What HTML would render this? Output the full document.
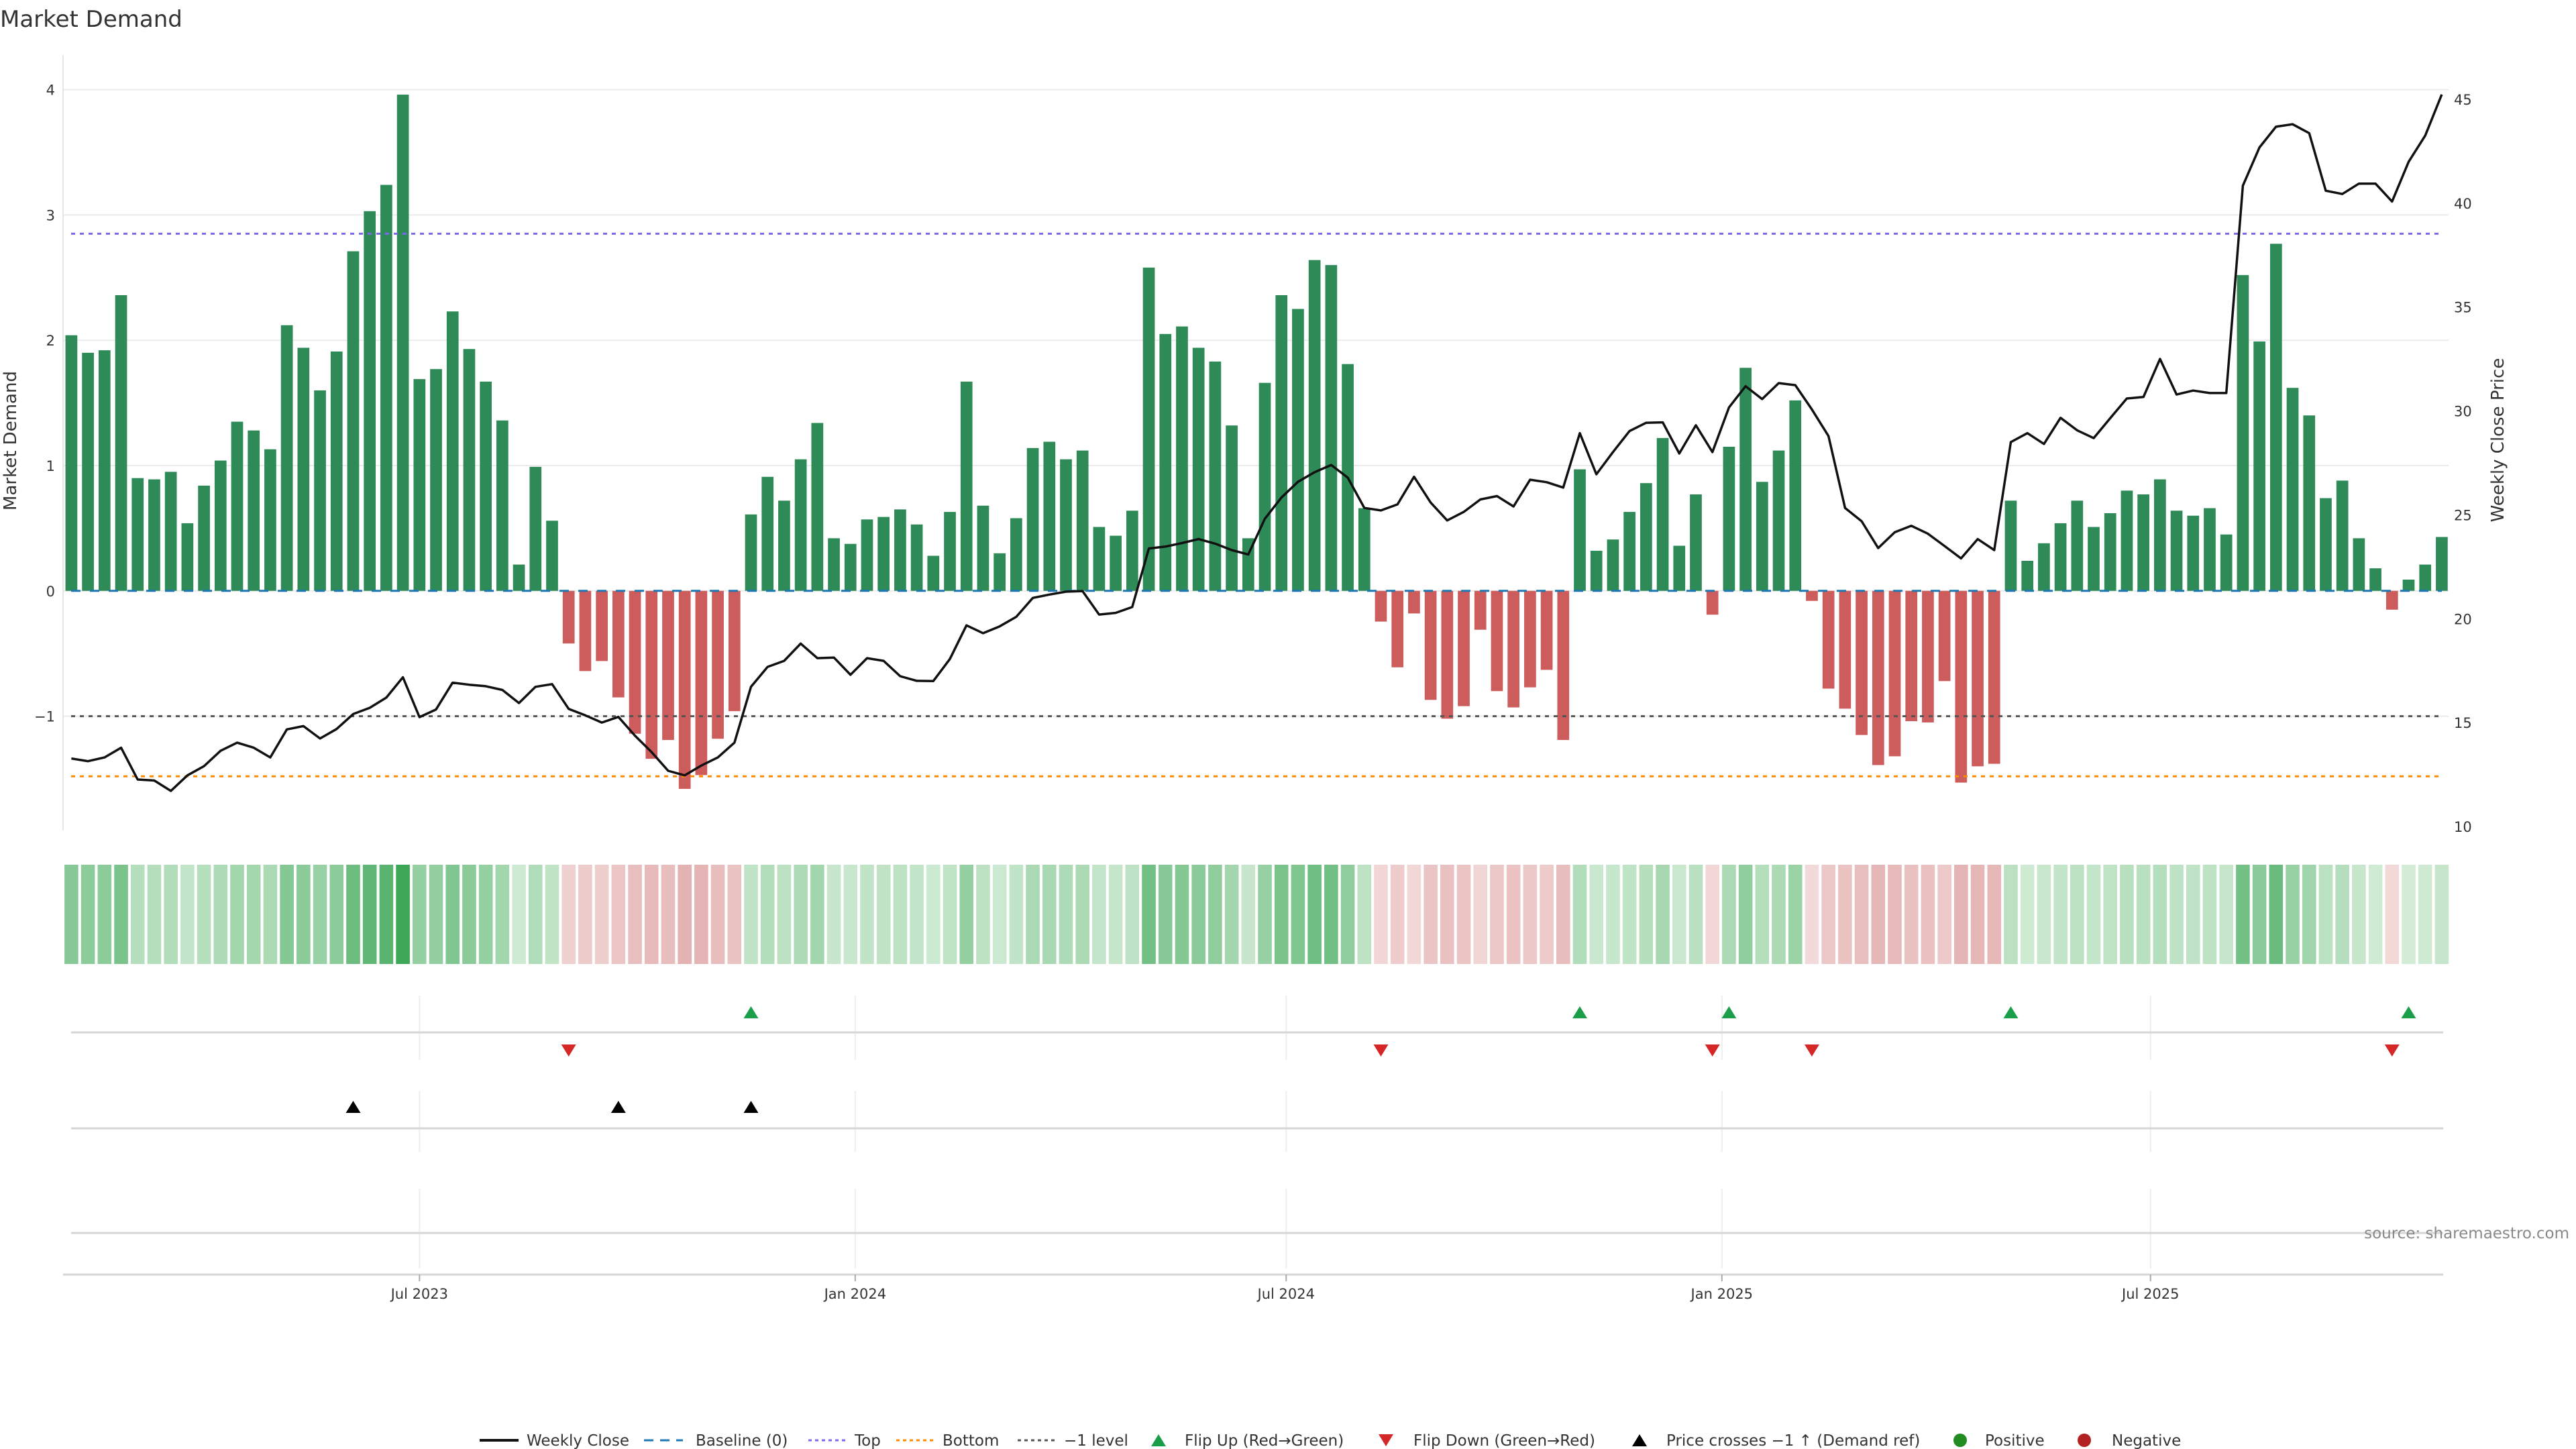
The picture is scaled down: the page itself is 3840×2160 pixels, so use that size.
<!DOCTYPE html>
<html><head><meta charset="utf-8"><style>
html,body{margin:0;padding:0;background:#fff;}
svg{display:block;font-family:"DejaVu Sans","Liberation Sans",sans-serif;}
</style></head><body>
<svg id="chart" width="3840" height="2160" viewBox="0 0 3840 2160" xmlns="http://www.w3.org/2000/svg">
<text x="0" y="40" font-size="34" fill="#333">Market Demand</text>
<g id="main"></g>
<text transform="translate(24,657) rotate(-90)" text-anchor="middle" font-size="26" fill="#333">Market Demand</text>
<text transform="translate(3732,656) rotate(-90)" text-anchor="middle" font-size="26" fill="#333">Weekly Close Price</text>
<text x="3830" y="1846" text-anchor="end" font-size="23" fill="#888">source: sharemaestro.com</text>
<g id="legend"></g>
</svg>
<script>
const demand = [2.04,1.90,1.92,2.36,0.90,0.89,0.95,0.54,0.84,1.04,1.35,1.28,1.13,2.12,1.94,1.60,1.91,2.71,3.03,3.24,3.96,1.69,1.77,2.23,1.93,1.67,1.36,0.21,0.99,0.56,
-0.42,-0.64,-0.56,-0.85,-1.14,-1.34,-1.19,-1.58,-1.47,-1.18,-0.96,
0.61,0.91,0.72,1.05,1.34,0.42,0.375,0.57,0.59,0.65,0.53,0.28,0.63,1.67,0.68,0.30,0.58,1.14,1.19,1.05,1.12,0.51,0.44,0.64,2.58,2.05,2.11,1.94,1.83,1.32,0.42,1.66,2.36,2.25,2.64,2.60,1.81,0.66,
-0.245,-0.61,-0.18,-0.87,-1.02,-0.92,-0.31,-0.80,-0.93,-0.77,-0.63,-1.19,
0.97,0.32,0.41,0.63,0.86,1.22,0.36,0.77,-0.19,1.15,1.78,0.87,1.12,1.52,
-0.08,-0.78,-0.94,-1.15,-1.39,-1.32,-1.04,-1.05,-0.72,-1.53,-1.40,-1.38,
0.72,0.24,0.38,0.54,0.72,0.51,0.62,0.80,0.77,0.89,0.64,0.60,0.66,0.45,2.52,1.99,2.77,1.62,1.40,0.74,0.88,0.42,0.18,-0.15,0.09,0.21,0.43];
const closePrice = [13.27,13.14,13.32,13.79,12.26,12.21,11.71,12.46,12.9,13.64,14.03,13.79,13.32,14.67,14.83,14.23,14.69,15.41,15.71,16.2,17.18,15.26,15.63,16.92,16.82,16.75,16.57,15.94,16.72,16.85,
15.66,15.35,15.0,15.27,14.37,13.58,12.68,12.46,12.93,13.32,14.03,16.72,17.68,17.97,18.8,18.1,18.13,17.3,18.1,17.97,17.23,17.01,17.0,18.06,19.68,19.3,19.63,20.09,21.0,21.16,
21.3,21.33,20.2,20.28,20.56,23.38,23.47,23.64,23.83,23.61,23.3,23.09,24.81,25.83,26.59,27.05,27.4,26.79,25.33,25.21,25.5,26.83,25.59,24.73,25.14,25.74,25.9,25.4,26.69,26.57,
26.31,28.93,26.95,28.02,29.03,29.43,29.45,27.95,29.31,28.02,30.17,31.19,30.57,31.34,31.24,30.07,28.79,25.33,24.69,23.4,24.16,24.47,24.09,23.5,22.9,23.83,23.3,28.5,28.93,28.41,
29.67,29.07,28.69,29.65,30.6,30.67,32.5,30.79,30.98,30.86,30.86,40.84,42.68,43.68,43.8,43.37,40.6,40.44,40.94,40.94,40.08,41.99,43.25,45.23];
const leftTicks = [4,3,2,1,0,-1];
const leftTickLabels = ["4","3","2","1","0","\u22121"];
const rightTicks = [45,40,35,30,25,20,15,10];
const levelTop = 2.85, levelBottom = -1.48, levelMinus1 = -1;
const priceCrossIdx = [17,33,41];
const dateTicks = ["2023-07-01","2024-01-01","2024-07-01","2025-01-01","2025-07-01"];
const dateTickLabels = ["Jul 2023","Jan 2024","Jul 2024","Jan 2025","Jul 2025"];
const startDate = "2023-02-04";

const NS="http://www.w3.org/2000/svg";
const main=document.getElementById('main');
function mk(tag,attrs,parent){const e=document.createElementNS(NS,tag);for(const k in attrs)e.setAttribute(k,attrs[k]);(parent||main).appendChild(e);return e;}
const X0=106.4, STEP=24.71;
function xIdx(i){return X0+STEP*i;}
const Y0=880.8, UNIT=186.8;
function yL(v){return Y0-v*UNIT;}
function yR(p){return 148+(45-p)*30.97;}
function dateIdx(d){return (Date.parse(d)-Date.parse(startDate))/86400000/7;}
const PL=94, PR=3650;

leftTicks.forEach((t,k)=>{
  const g=mk('line',{x1:PL,x2:PR,y1:yL(t),y2:yL(t),stroke:'#ebebeb','stroke-width':2});
  
  
  const tx=mk('text',{x:82,y:yL(t)+8,'text-anchor':'end','font-size':21,fill:'#333'});
  tx.textContent=leftTickLabels[k];
  
  
});
rightTicks.forEach(t=>{
  const tx=mk('text',{x:3658,y:yR(t)+8,'font-size':21,fill:'#333'});
  tx.textContent=String(t);
  
  
});
const ax=mk('line',{x1:PL,x2:PL,y1:82,y2:1238,stroke:'#e6e6e6','stroke-width':2});



const BW=17.7;
demand.forEach((v,i)=>{
  const y=Math.min(yL(v),Y0), h=Math.abs(yL(v)-Y0);
  const r=mk('rect',{x:xIdx(i)-BW/2,y:y,width:BW,height:h,fill:v>=0?'#2e8b57':'#cd5c5c'});
  
  
});
function level(v,color,dash,name){
  const l=mk('line',{x1:106,x2:3640,y1:yL(v),y2:yL(v),stroke:color,'stroke-width':3,'stroke-dasharray':dash});
  
  
}
level(0,'#1f77b4','14 14','baseline-line');
level(levelTop,'#7b68ee','6 7','top-line');
level(levelBottom,'#ff8c00','6 7','bottom-line');
level(levelMinus1,'#555','6 7','minus-one-level-line');
const pts=closePrice.map((p,i)=>xIdx(i).toFixed(1)+','+yR(p).toFixed(1)).join(' ');
const pl=mk('polyline',{points:pts,fill:'none',stroke:'#111','stroke-width':3.5,'stroke-linejoin':'round'});



function heatColor(v){
  if(v>=0){const t=Math.min(v/4,1);return `rgb(${Math.round(215-157*t)},${Math.round(238-72*t)},${Math.round(218-133*t)})`;}
  const t=Math.min(-v/2.5,1);return `rgb(${Math.round(244-25*t)},${Math.round(220-66*t)},${Math.round(220-66*t)})`;
}
demand.forEach((v,i)=>{
  const c=mk('rect',{x:xIdx(i)-10.3,y:1289,width:20.6,height:148,fill:heatColor(v)});
  
  
});

const rows=[[1484,1580,1539],[1626,1717,1682],[1772,1891,1838]];
dateTicks.forEach(d=>{
  const x=xIdx(dateIdx(d));
  rows.forEach(r=>{
    const g=mk('line',{x1:x,x2:x,y1:r[0],y2:r[1],stroke:'#eeeeee','stroke-width':2});
    
    
  });
});
rows.forEach(r=>{
  const l=mk('line',{x1:106,x2:3642,y1:r[2],y2:r[2],stroke:'#d6d6d6','stroke-width':3});
  
  
});
function tri(x,y,up,color,name){
  const p=up?`${x-11},${y+9} ${x+11},${y+9} ${x},${y-9}`:`${x-11},${y-9} ${x+11},${y-9} ${x},${y+9}`;
  const t=mk('polygon',{points:p,fill:color});
  
  
}
for(let i=1;i<demand.length;i++){
  if(demand[i-1]<0&&demand[i]>=0) tri(xIdx(i),1509,true,'#1a9e4a','flip-up-marker');
  if(demand[i-1]>=0&&demand[i]<0) tri(xIdx(i),1566,false,'#d62728','flip-down-marker');
}
priceCrossIdx.forEach(i=>tri(xIdx(i),1650,true,'#000','price-cross-marker'));

const xa=mk('line',{x1:94,x2:3642,y1:1900,y2:1900,stroke:'#d6d6d6','stroke-width':3});


dateTicks.forEach((d,k)=>{
  const x=xIdx(dateIdx(d));
  const tk=mk('line',{x1:x,x2:x,y1:1900,y2:1910,stroke:'#aaa','stroke-width':2});
  
  
  const t=mk('text',{x:x,y:1936,'text-anchor':'middle','font-size':21,fill:'#333'});
  t.textContent=dateTickLabels[k];
  
  
});

const lg=document.getElementById('legend');
const LY=2147;
function ltext(x,s){const t=mk('text',{x:x,y:LY+8,'font-size':23,fill:'#333'},lg);t.textContent=s;}
function lline(x,color,dash,w,name){const l=mk('line',{x1:x,x2:x+58,y1:LY,y2:LY,stroke:color,'stroke-width':w,'stroke-dasharray':dash},lg);}
lline(715,'#111','none',4,'legend-weekly-close'); ltext(785,'Weekly Close');
lline(960,'#1f77b4','14 10',3,'legend-baseline'); ltext(1037,'Baseline (0)');
lline(1205,'#7b68ee','5 5',3,'legend-top'); ltext(1274,'Top');
lline(1336,'#ff8c00','5 5',3,'legend-bottom'); ltext(1405,'Bottom');
lline(1517,'#555','5 5',3,'legend-minus-one'); ltext(1586,'\u22121 level');
function ltri(x,up,color,name){const p=up?`${x-11},${LY+9} ${x+11},${LY+9} ${x},${LY-9}`:`${x-11},${LY-9} ${x+11},${LY-9} ${x},${LY+9}`;const t=mk('polygon',{points:p,fill:color},lg);}
ltri(1727,true,'#1a9e4a','legend-flip-up'); ltext(1766,'Flip Up (Red\u2192Green)');
ltri(2066,false,'#d62728','legend-flip-down'); ltext(2107,'Flip Down (Green\u2192Red)');
ltri(2444,true,'#000','legend-price-cross'); ltext(2484,'Price crosses \u22121 \u2191 (Demand ref)');
function ldot(x,color,name){const c=mk('circle',{cx:x,cy:LY,r:10,fill:color},lg);}
ldot(2922,'#228b22','legend-positive'); ltext(2959,'Positive');
ldot(3107,'#b22222','legend-negative'); ltext(3148,'Negative');
</script>
</body></html>
